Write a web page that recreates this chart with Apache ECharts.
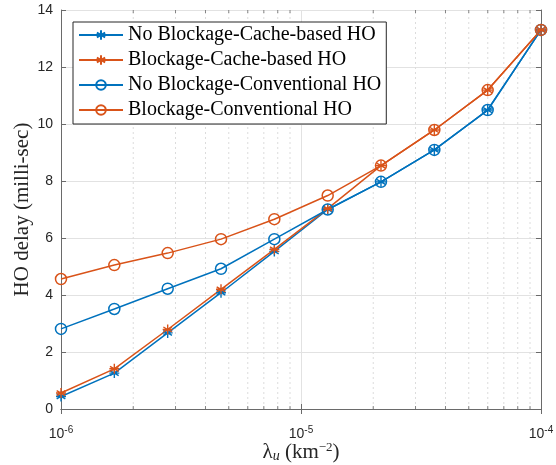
<!DOCTYPE html>
<html><head><meta charset="utf-8">
<script src="https://cdn.jsdelivr.net/npm/echarts@6/dist/echarts.min.js"></script>
<style>html,body{margin:0;padding:0;background:#fff}#c{width:556px;height:465px}</style>
</head><body><div id="c"></div>
<script>
const lambdaU = [1e-6, 1.668e-6, 2.783e-6, 4.642e-6, 7.743e-6, 1.292e-5, 2.154e-5, 3.594e-5, 5.995e-5, 1e-4];
const noBlockCache = [0.44, 1.26, 2.67, 4.08, 5.53, 7.0, 7.97, 9.09, 10.49, 13.3];
const blockCache = [0.56, 1.41, 2.79, 4.2, 5.6, 7.03, 8.54, 9.79, 11.19, 13.3];
const noBlockConv = [2.81, 3.51, 4.22, 4.92, 5.96, 7.0, 7.97, 9.09, 10.49, 13.3];
const blockConv = [4.56, 5.05, 5.47, 5.96, 6.66, 7.49, 8.54, 9.79, 11.19, 13.3];
const seriesNames = ['No Blockage-Cache-based HO', 'Blockage-Cache-based HO', 'No Blockage-Conventional HO', 'Blockage-Conventional HO'];
const minorX = [2e-6,3e-6,4e-6,5e-6,6e-6,7e-6,8e-6,9e-6,2e-5,3e-5,4e-5,5e-5,6e-5,7e-5,8e-5,9e-5];
const yTicks = [0,2,4,6,8,10,12,14];
const yMin = 0, yMax = 14;

const BLUE = '#0072BD', ORANGE = '#D95319', AX = '#262626', AXL = '#6a6a6a';
const SERIF = '"Liberation Serif", "DejaVu Serif", serif';
const SANS = '"Liberation Sans", Arial, sans-serif';
const STAR = 'path://M0,-10 L0,10 M-8.66,-5 L8.66,5 M-8.66,5 L8.66,-5 M-10,0 L10,0';

function pair(vals){ return lambdaU.map((x,i)=>[x, vals[i]]); }
function mk(name, vals, color, sym){
  const isStar = sym === 'star';
  return {
    name, type:'line', data: pair(vals),
    symbol: isStar ? STAR : 'circle',
    symbolSize: isStar ? 10 : 11,
    symbolKeepAspect: true,
    lineStyle:{color, width:1.5},
    itemStyle:{color: 'rgba(0,0,0,0)', borderColor: color, borderWidth: isStar ? 1.4 : 1.5},
    emphasis:{disabled:true}, animation:false, z: 3
  };
}
// minor grid lines (dotted) built from minorX through the axis scale
const minorGridData = [];
minorX.forEach(v => { minorGridData.push([v, yMin], [v, yMax], [v, null]); });
const tickStyle = {color:AXL};
const series = [
  { type:'line', silent:true, animation:false, data: minorGridData, symbol:'none', connectNulls:false,
    lineStyle:{type:[2,3], color:'#dcdcdc', width:1}, z:1 },
  mk(seriesNames[0], noBlockCache, BLUE, 'star'),
  mk(seriesNames[1], blockCache, ORANGE, 'star'),
  mk(seriesNames[2], noBlockConv, BLUE, 'circle'),
  mk(seriesNames[3], blockConv, ORANGE, 'circle'),
  { type:'scatter', silent:true, animation:false, data: minorX.map(v=>[v,yMin]),
    symbol:'rect', symbolSize:[1,3], symbolOffset:[0,-1.5], itemStyle:tickStyle, clip:false, z:4 },
  { type:'scatter', silent:true, animation:false, data: minorX.map(v=>[v,yMax]),
    symbol:'rect', symbolSize:[1,3], symbolOffset:[0,1.5], itemStyle:tickStyle, clip:false, z:4 }
];

const chart = echarts.init(document.getElementById('c'), null, {renderer:'canvas'});
chart.setOption({
  backgroundColor:'#fff',
  animation:false,
  grid:{left:61, right:15, top:10, bottom:56, containLabel:false, outerBoundsMode:'none'},
  legend:{
    data: seriesNames.map(n=>({name:n})),
    orient:'vertical', left:73, top:22,
    backgroundColor:'#fff', borderColor:AX, borderWidth:1, borderRadius:0,
    padding:[3,5,4,5], itemGap:5, itemWidth:44, itemHeight:12,
    textStyle:{fontFamily:SERIF, fontSize:20, color:'#000'},
    selectedMode:false
  },
  xAxis:[{
    type:'log', logBase:10, min:1e-6, max:1e-4,
    name:'{l|λ}{u|u}{n| (km}{s|−2}{n|)}', nameLocation:'middle', nameGap:32, nameMoveOverlap:false,
    nameTextStyle:{rich:{
      l:{fontFamily:SERIF, fontSize:21, color:AX},
      u:{fontFamily:SERIF, fontStyle:'italic', fontSize:14, color:AX, padding:[8,0,0,0]},
      n:{fontFamily:SERIF, fontSize:21, color:AX},
      s:{fontFamily:SERIF, fontSize:13, color:AX, padding:[0,0,10,0]}
    }},
    axisLine:{show:true, lineStyle:{color:AXL, width:1}},
    axisTick:{show:true, inside:true, length:5, lineStyle:{color:AXL}},
    axisLabel:{margin:16, formatter:v=>'{b|10}{s|'+Math.round(Math.log10(v))+'}',
      rich:{b:{fontFamily:SANS, fontSize:14, color:AX}, s:{fontFamily:SANS, fontSize:10, color:AX, padding:[0,0,9,0]}}},
    splitLine:{show:true, lineStyle:{color:'#e2e2e2', width:1}}
  },{
    type:'log', logBase:10, min:1e-6, max:1e-4, position:'top',
    axisLine:{show:true, lineStyle:{color:AXL, width:1}},
    axisTick:{show:true, inside:true, length:5, lineStyle:{color:AXL}},
    axisLabel:{show:false}, splitLine:{show:false}
  }],
  yAxis:[{
    type:'value', min:yMin, max:yMax, interval:2,
    name:'HO delay (milli-sec)', nameLocation:'middle', nameGap:28, nameMoveOverlap:false,
    nameTextStyle:{fontFamily:SERIF, fontSize:21, color:AX},
    axisLine:{show:true, lineStyle:{color:AXL, width:1}},
    axisTick:{show:true, inside:true, length:5, lineStyle:{color:AXL}},
    axisLabel:{fontFamily:SANS, fontSize:14, color:AX, margin:8,
      formatter: v => yTicks.includes(v) ? String(v) : ''},
    splitLine:{show:true, lineStyle:{color:'#e2e2e2', width:1}}
  },{
    type:'value', min:yMin, max:yMax, interval:2, position:'right',
    axisLine:{show:true, lineStyle:{color:AXL, width:1}},
    axisTick:{show:true, inside:true, length:5, lineStyle:{color:AXL}},
    axisLabel:{show:false}, splitLine:{show:false}
  }],
  series
});
</script></body></html>
